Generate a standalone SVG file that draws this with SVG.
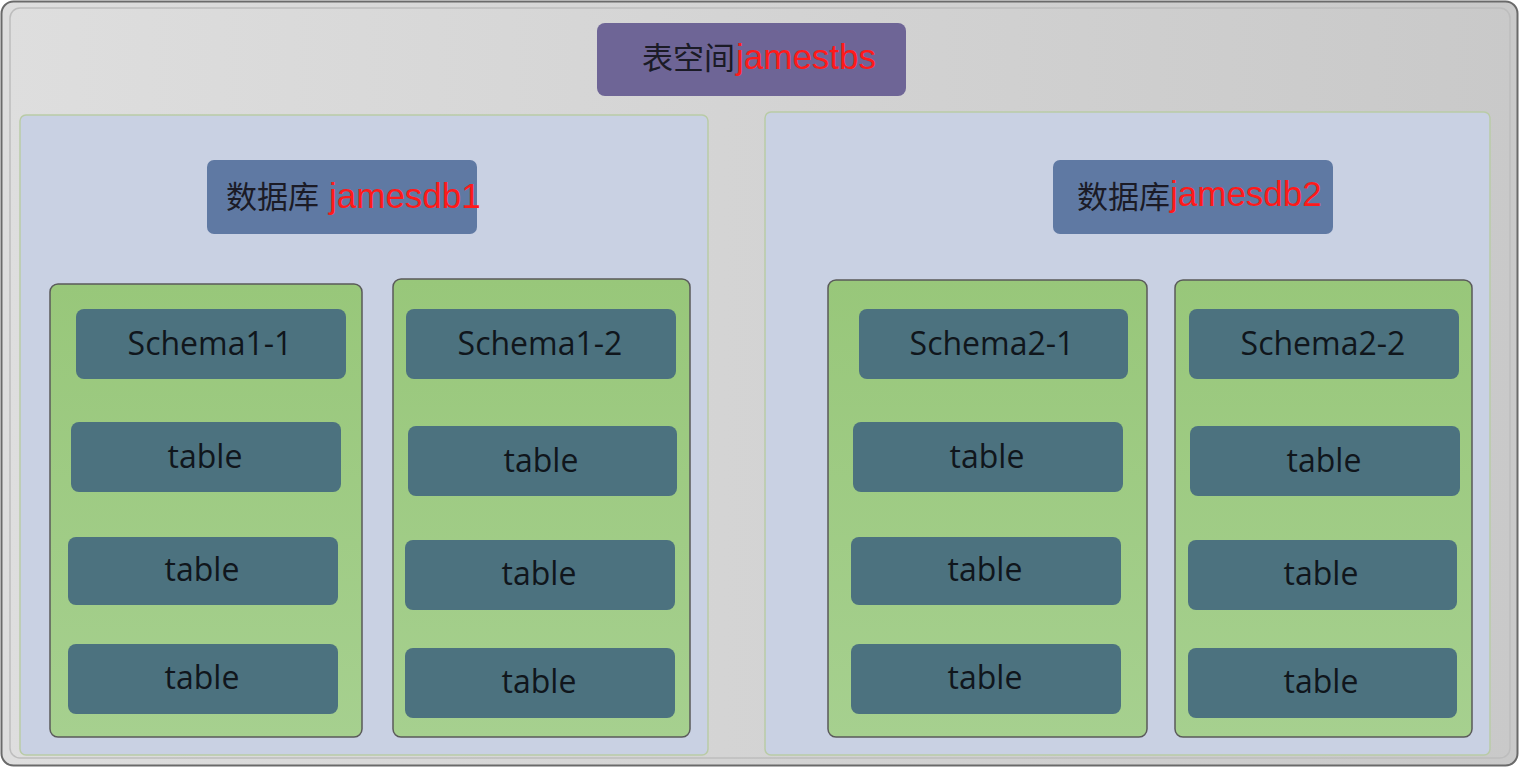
<svg xmlns="http://www.w3.org/2000/svg" width="1520" height="768" viewBox="0 0 1520 768">
<defs>
<linearGradient id="bg" x1="0" y1="0" x2="1" y2="0">
<stop offset="0" stop-color="#dedede"/>
<stop offset="1" stop-color="#c9c9c9"/>
</linearGradient>
<linearGradient id="grn" x1="0" y1="0" x2="0" y2="1">
<stop offset="0" stop-color="#98c77a"/>
<stop offset="1" stop-color="#a6d08f"/>
</linearGradient>
<style>
.panel{fill:#c9d1e3;stroke:#b9cba6;stroke-width:1.5}
.col{fill:url(#grn);stroke:#5a5a5a;stroke-width:1.5}
.box{fill:#4c727f}
.lbl{font-family:"Open Sans","Noto Sans",sans-serif;font-size:32px;font-weight:500;fill:#10161c;text-anchor:middle}
.cn{font-family:"Noto Sans CJK SC",sans-serif;font-size:31px;fill:#1b1b26}
.red{font-family:"Liberation Sans",Arial,sans-serif;font-size:35px;fill:#ff1a1a}
</style>
</defs>
<rect x="1.5" y="1.5" width="1516" height="764" rx="12" fill="url(#bg)" stroke="#6a6a6a" stroke-width="2"/>
<rect x="10" y="8" width="1500" height="750" rx="10" fill="none" stroke="#bdbdbd" stroke-width="1.5"/>
<g id="tablespace">
<rect x="597" y="23" width="309" height="73" rx="8" fill="#6e6596"/>
<text x="642" y="69" class="cn">表空间</text>
<text x="736" y="69" class="red">jamestbs</text>
</g>
<g id="db1">
<rect x="20" y="115" width="688" height="640" rx="6" class="panel"/>
<rect x="207" y="160" width="270" height="74" rx="7" fill="#5f79a3"/>
<text x="226" y="208" class="cn">数据库</text>
<text x="329" y="208" class="red">jamesdb1</text>
</g>
<g id="db2">
<rect x="765" y="112" width="725" height="643" rx="6" class="panel"/>
<rect x="1053" y="160" width="280" height="74" rx="7" fill="#5f79a3"/>
<text x="1077" y="208" class="cn">数据库</text>
<text x="1170" y="206" class="red">jamesdb2</text>
</g>
<g id="schema1-1">
<rect x="50" y="284" width="312" height="453" rx="8" class="col"/>
<rect x="76" y="309" width="270" height="70" rx="8" class="box"/>
<text x="210" y="355" class="lbl">Schema1-1</text>
<rect x="71" y="422" width="270" height="70" rx="8" class="box"/>
<text x="205" y="468" class="lbl">table</text>
<rect x="68" y="537" width="270" height="68" rx="8" class="box"/>
<text x="202" y="581" class="lbl">table</text>
<rect x="68" y="644" width="270" height="70" rx="8" class="box"/>
<text x="202" y="689" class="lbl">table</text>
</g>
<g id="schema1-2">
<rect x="393" y="279" width="297" height="458" rx="8" class="col"/>
<rect x="406" y="309" width="270" height="70" rx="8" class="box"/>
<text x="540" y="355" class="lbl">Schema1-2</text>
<rect x="408" y="426" width="269" height="70" rx="8" class="box"/>
<text x="541" y="472" class="lbl">table</text>
<rect x="405" y="540" width="270" height="70" rx="8" class="box"/>
<text x="539" y="585" class="lbl">table</text>
<rect x="405" y="648" width="270" height="70" rx="8" class="box"/>
<text x="539" y="693" class="lbl">table</text>
</g>
<g id="schema2-1">
<rect x="828" y="280" width="319" height="457" rx="8" class="col"/>
<rect x="859" y="309" width="269" height="70" rx="8" class="box"/>
<text x="992" y="355" class="lbl">Schema2-1</text>
<rect x="853" y="422" width="270" height="70" rx="8" class="box"/>
<text x="987" y="468" class="lbl">table</text>
<rect x="851" y="537" width="270" height="68" rx="8" class="box"/>
<text x="985" y="581" class="lbl">table</text>
<rect x="851" y="644" width="270" height="70" rx="8" class="box"/>
<text x="985" y="689" class="lbl">table</text>
</g>
<g id="schema2-2">
<rect x="1175" y="280" width="297" height="457" rx="8" class="col"/>
<rect x="1189" y="309" width="270" height="70" rx="8" class="box"/>
<text x="1323" y="355" class="lbl">Schema2-2</text>
<rect x="1190" y="426" width="270" height="70" rx="8" class="box"/>
<text x="1324" y="472" class="lbl">table</text>
<rect x="1188" y="540" width="269" height="70" rx="8" class="box"/>
<text x="1321" y="585" class="lbl">table</text>
<rect x="1188" y="648" width="269" height="70" rx="8" class="box"/>
<text x="1321" y="693" class="lbl">table</text>
</g>
<g id="connectors"/>
</svg>
